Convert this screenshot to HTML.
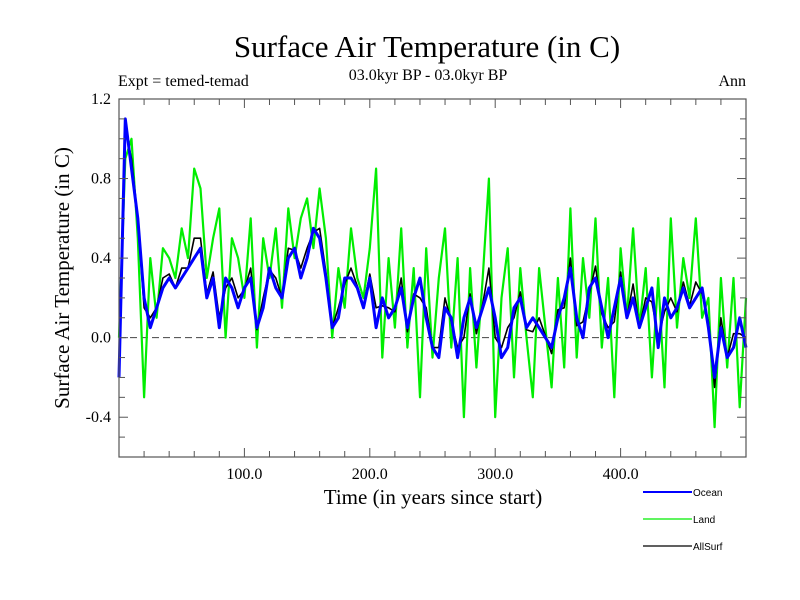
<!DOCTYPE html>
<html><head><meta charset="utf-8">
<style>
body{margin:0;background:#fff;}
svg{display:block;}
.serif{font-family:"Liberation Serif",serif;fill:#000;}
.sans{font-family:"Liberation Sans",sans-serif;fill:#000;}
</style></head>
<body>
<svg id="chart" width="800" height="600" viewBox="0 0 800 600">
<rect width="800" height="600" fill="#fff"/>
<text class="serif" x="427" y="57" font-size="31" text-anchor="middle">Surface Air Temperature (in C)</text>
<text class="serif" x="428" y="80" font-size="16" text-anchor="middle">03.0kyr BP - 03.0kyr BP</text>
<text class="serif" x="118" y="86" font-size="16">Expt = temed-temad</text>
<text class="serif" x="746" y="86" font-size="16" text-anchor="end">Ann</text>
<text class="serif" x="433" y="504" font-size="21" text-anchor="middle">Time (in years since start)</text>
<text class="serif" transform="translate(69,278) rotate(-90)" font-size="21" text-anchor="middle">Surface Air Temperature (in C)</text>
<g id="plot"></g>
<g id="legend"></g>
</svg>
<script>
const years=[0,5,10,15,20,25,30,35,40,45,50,55,60,65,70,75,80,85,90,95,100,105,110,115,120,125,130,135,140,145,150,155,160,165,170,175,180,185,190,195,200,205,210,215,220,225,230,235,240,245,250,255,260,265,270,275,280,285,290,295,300,305,310,315,320,325,330,335,340,345,350,355,360,365,370,375,380,385,390,395,400,405,410,415,420,425,430,435,440,445,450,455,460,465,470,475,480,485,490,495,500];
const oceanValues=[-0.2,1.1,0.85,0.6,0.2,0.05,0.15,0.25,0.3,0.25,0.3,0.35,0.4,0.45,0.2,0.3,0.05,0.3,0.25,0.15,0.25,0.3,0.05,0.15,0.35,0.25,0.2,0.4,0.45,0.3,0.4,0.55,0.5,0.3,0.05,0.1,0.3,0.3,0.25,0.15,0.3,0.05,0.2,0.1,0.15,0.25,0.05,0.2,0.3,0.1,-0.05,-0.1,0.15,0.1,-0.1,0.1,0.2,0.05,0.15,0.25,0.1,-0.1,-0.05,0.15,0.2,0.05,0.1,0.05,0.0,-0.05,0.1,0.2,0.35,0.1,0.0,0.25,0.3,0.15,0.0,0.15,0.3,0.1,0.2,0.05,0.15,0.25,-0.05,0.2,0.1,0.15,0.25,0.15,0.2,0.25,0.05,-0.2,0.05,-0.1,-0.05,0.1,-0.05];
const landValues=[0.0,0.9,1.0,0.5,-0.3,0.4,0.1,0.45,0.4,0.3,0.55,0.4,0.85,0.75,0.3,0.5,0.65,0.0,0.5,0.4,0.2,0.6,-0.05,0.5,0.3,0.55,0.15,0.65,0.4,0.6,0.7,0.45,0.75,0.5,0.0,0.35,0.15,0.55,0.3,0.2,0.45,0.85,-0.1,0.4,0.05,0.55,-0.05,0.35,-0.3,0.45,-0.1,0.3,0.55,-0.05,0.4,-0.4,0.35,-0.15,0.3,0.8,-0.4,0.2,0.45,-0.2,0.35,0.0,-0.3,0.35,0.05,-0.25,0.3,-0.15,0.65,-0.1,0.4,0.1,0.6,-0.05,0.3,-0.3,0.45,0.1,0.55,0.05,0.35,-0.2,0.3,-0.25,0.6,0.05,0.4,0.2,0.6,0.1,0.2,-0.45,0.3,-0.15,0.3,-0.35,0.2];
const allSurfValues=[-0.15,1.05,0.9,0.6,0.15,0.1,0.15,0.3,0.32,0.25,0.35,0.35,0.5,0.5,0.22,0.33,0.1,0.25,0.3,0.2,0.24,0.35,0.04,0.2,0.34,0.3,0.2,0.45,0.44,0.35,0.45,0.53,0.55,0.33,0.05,0.15,0.27,0.35,0.26,0.16,0.32,0.15,0.16,0.15,0.13,0.3,0.03,0.22,0.2,0.15,-0.05,-0.05,0.2,0.08,-0.05,0.0,0.22,0.02,0.17,0.35,0.0,-0.05,0.05,0.1,0.23,0.04,0.03,0.1,0.01,-0.08,0.14,0.15,0.4,0.06,0.08,0.22,0.36,0.12,0.05,0.08,0.33,0.1,0.27,0.05,0.2,0.18,0.0,0.13,0.2,0.13,0.28,0.16,0.28,0.22,0.08,-0.25,0.1,-0.1,0.02,0.02,0.0];
const yTickValues=[1.2,0.8,0.4,0.0,-0.4];
const yTickLabels=["1.2","0.8","0.4","0.0","-0.4"];
const xTickValues=[100,200,300,400];
const xTickLabels=["100.0","200.0","300.0","400.0"];
const legendLabels=["Ocean","Land","AllSurf"];
const legendColors=["#0000ff","#00ee00","#000000"];

const NS="http://www.w3.org/2000/svg";
const L=119,R=746,T=99,B=457,XMIN=0,XMAX=500,YMIN=-0.6,YMAX=1.2;
function xs(v){return L+(v-XMIN)/(XMAX-XMIN)*(R-L);}
function ys(v){return B-(v-YMIN)/(YMAX-YMIN)*(B-T);}
const plot=document.getElementById('plot');
function mk(tag,attrs,parent){const e=document.createElementNS(NS,tag);for(const k in attrs)e.setAttribute(k,attrs[k]);(parent||plot).appendChild(e);return e;}

const zero=mk('line',{x1:L,x2:R,y1:ys(0),y2:ys(0),stroke:'#444','stroke-width':1,'stroke-dasharray':'7,4'});



function series(vals,color,w,name){
  const d=vals.map((v,i)=>(i?'L':'M')+xs(years[i]).toFixed(1)+' '+ys(v).toFixed(1)).join(' ');
  const p=mk('path',{d:d,fill:'none',stroke:color,'stroke-width':w,'stroke-linejoin':'round'});
  
  
}
series(landValues,'#00ee00',2.2,'land-series');
series(allSurfValues,'#000000',1.6,'allsurf-series');
series(oceanValues,'#0000ff',3,'ocean-series');

const frame=mk('rect',{x:L,y:T,width:R-L,height:B-T,fill:'none',stroke:'#555','stroke-width':1.2});



for(let v=-0.6;v<=1.2001;v+=0.1){
  const y=ys(v),major=Math.abs(Math.round(v*10)%4)===0;
  const len=major?9:6;
  const t1=mk('line',{x1:L,x2:L+len,y1:y,y2:y,stroke:'#555'});
  
  
  const t2=mk('line',{x1:R-len,x2:R,y1:y,y2:y,stroke:'#555'});
  
  
}
for(let v=20;v<500;v+=20){
  const x=xs(v),len=(v%100===0)?9:6;
  const t1=mk('line',{x1:x,x2:x,y1:B,y2:B-len,stroke:'#555'});
  
  
  const t2=mk('line',{x1:x,x2:x,y1:T,y2:T+len,stroke:'#555'});
  
  
}
yTickValues.forEach((v,i)=>{
  const t=mk('text',{x:L-8,y:ys(v)+5,'font-size':16,'text-anchor':'end',class:'serif'});
  t.textContent=yTickLabels[i];
  
  
});
xTickValues.forEach((v,i)=>{
  const t=mk('text',{x:xs(v),y:B+22,'font-size':16,'text-anchor':'middle',class:'serif'});
  t.textContent=xTickLabels[i];
  
  
});
const leg=document.getElementById('legend');
legendLabels.forEach((lab,i)=>{
  const y=492+i*27;
  const l=mk('line',{x1:643,x2:692,y1:y,y2:y,stroke:legendColors[i],'stroke-width':i===0?2:1.2},leg);
  
  
  const t=mk('text',{x:693,y:y+4,'font-size':10,class:'sans'},leg);
  t.textContent=lab;
  
  
});
</script>
</body></html>
